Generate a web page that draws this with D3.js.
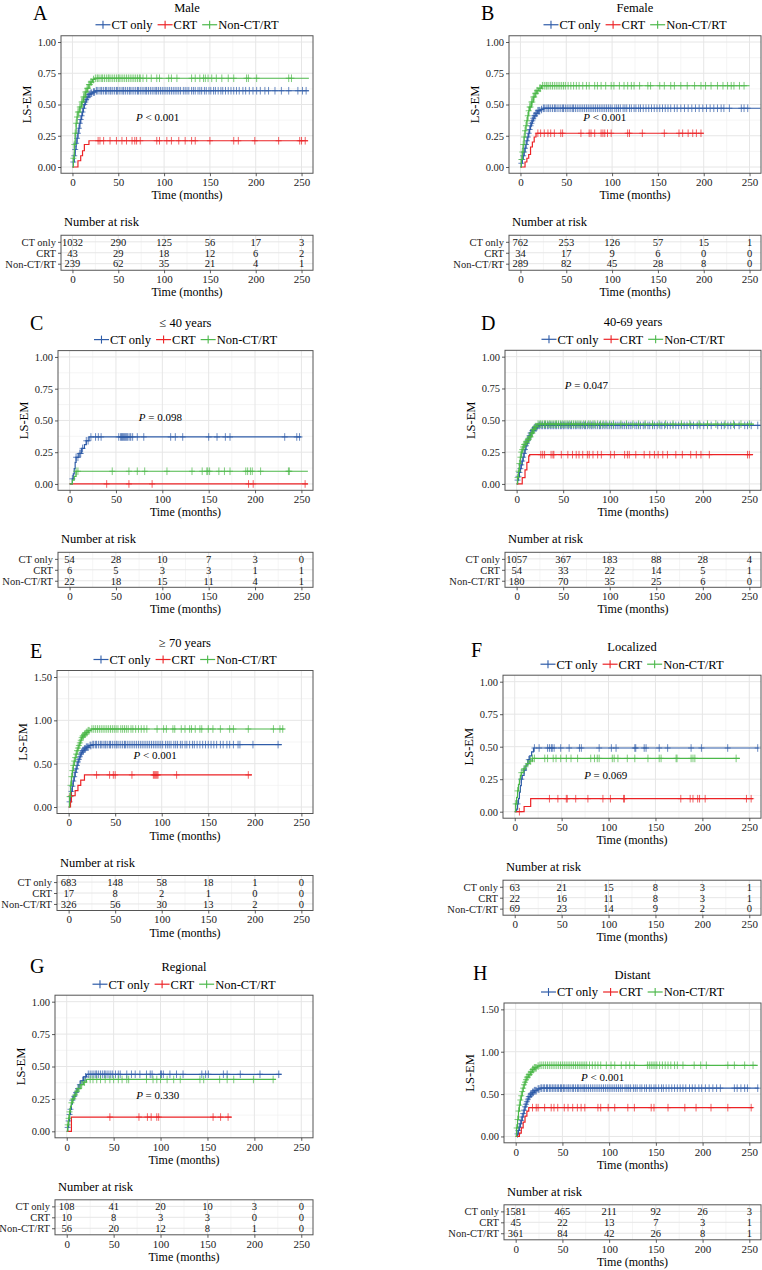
<!DOCTYPE html>
<html>
<head>
<meta charset="utf-8">
<script src="https://cdn.jsdelivr.net/npm/d3@7"></script>
<style>
  body { margin: 0; background: #fff; }
  svg { display: block; }
</style>
</head>
<body>
<script>
const groups = ["CT only", "CRT", "Non-CT/RT"];
const colors = ["#2f5ca8", "#ec2326", "#4cb84a"];
const riskTimes = [0, 50, 100, 150, 200, 250];
const xMajor = [0, 50, 100, 150, 200, 250];
const xMinor = [25, 75, 125, 175, 225];

const letters = ["A", "B", "C", "D", "E", "F", "G", "H"];
const titles = ["Male", "Female", "\u2264 40 years", "40-69 years", "\u2265 70 years", "Localized", "Regional", "Distant"];
const yMaxes = [1, 1, 1, 1, 1.5, 1, 1, 1.5];
const pTexts = ["< 0.001", "< 0.001", "= 0.098", "= 0.047", "< 0.001", "= 0.069", "= 0.330", "< 0.001"];

// number at risk: rows = CT only, CRT, Non-CT/RT
const riskA = [[1032, 290, 125, 56, 17, 3], [43, 29, 18, 12, 6, 2], [239, 62, 35, 21, 4, 1]];
const riskB = [[762, 253, 126, 57, 15, 1], [34, 17, 9, 6, 0, 0], [289, 82, 45, 28, 8, 0]];
const riskC = [[54, 28, 10, 7, 3, 0], [6, 5, 3, 3, 1, 1], [22, 18, 15, 11, 4, 1]];
const riskD = [[1057, 367, 183, 88, 28, 4], [54, 33, 22, 14, 5, 1], [180, 70, 35, 25, 6, 0]];
const riskE = [[683, 148, 58, 18, 1, 0], [17, 8, 2, 1, 0, 0], [326, 56, 30, 13, 2, 0]];
const riskF = [[63, 21, 15, 8, 3, 1], [22, 16, 11, 8, 3, 1], [69, 23, 14, 9, 2, 0]];
const riskG = [[108, 41, 20, 10, 3, 0], [10, 8, 3, 3, 0, 0], [56, 20, 12, 8, 1, 0]];
const riskH = [[1581, 465, 211, 92, 26, 3], [45, 22, 13, 7, 3, 1], [361, 84, 42, 26, 8, 1]];

// curves: [time, cumulative incidence] steps, censor times
const aCtSteps = [[0,0],[1,0.04],[2,0.09],[3,0.14],[4,0.19],[5,0.23],[6,0.27],[7,0.31],[8,0.35],[9,0.38],[10,0.41],[11,0.44],[12,0.47],[13,0.5],[14,0.52],[15,0.54],[16,0.56],[18,0.58],[20,0.59],[22,0.6],[25,0.61],[258,0.61]];
const aCtCens = [1,2,3,4,5,6,7,8,9,10,11,12,13,14,15,16,17,18,19,20,21,23,24,26,27,29,31,32,34,36,37,39,41,42,44,46,48,49,51,53,55,56,58,60,62,63,65,67,69,71,72,74,76,78,80,81,83,85,87,89,91,92,94,96,98,100,102,104,106,108,110,112,114,116,118,121,123,125,127,130,132,134,137,139,141,144,146,149,151,154,156,159,162,164,167,170,173,176,179,182,186,189,193,197,201,205,210,214,221,228,236,246,251,255];
const aCrtSteps = [[0,0],[6,0.05],[9,0.09],[11,0.13],[13,0.18],[18,0.21],[257,0.21]];
const aCrtCens = [28,30,34,41,48,54,59,65,68,70,74,92,95,103,108,116,123,130,134,150,176,181,199,225,248,250,254];
const aNonSteps = [[0,0],[1,0.07],[2,0.18],[3,0.27],[4,0.35],[5,0.4],[6,0.44],[8,0.48],[10,0.52],[12,0.56],[14,0.6],[16,0.63],[18,0.66],[20,0.68],[22,0.7],[24,0.71],[258,0.71]];
const aNonCens = [1,2,3,4,5,6,7,8,9,10,11,12,13,14,15,16,17,18,19,20,21,23,25,27,28,30,32,33,35,37,39,40,42,44,46,48,50,51,53,55,57,59,61,63,65,67,69,71,73,74,77,81,86,92,95,105,108,114,130,134,139,143,145,148,152,157,163,170,176,190,192,201,236,239];

const bCtSteps = [[0,0],[1,0.03],[2,0.06],[3,0.09],[4,0.12],[5,0.15],[6,0.18],[7,0.21],[8,0.24],[9,0.27],[10,0.3],[11,0.33],[12,0.35],[13,0.37],[14,0.39],[15,0.41],[17,0.43],[19,0.45],[22,0.46],[25,0.47],[262,0.47]];
const bCtCens = [1,2,3,4,5,6,7,8,9,10,11,12,13,14,15,16,17,18,19,20,21,23,25,26,28,30,31,33,35,37,38,40,42,44,46,47,49,51,53,55,57,58,60,62,64,66,68,70,72,74,76,78,80,82,84,86,88,90,92,94,96,98,100,103,105,107,109,112,114,116,119,121,124,126,129,131,134,137,140,143,146,149,152,155,158,161,164,168,171,175,179,183,187,191,195,199,203,207,211,215,219,222,228,241,244,248];
const bCrtSteps = [[0,0],[5,0.04],[7,0.07],[9,0.1],[11,0.16],[13,0.2],[15,0.24],[17,0.27],[200,0.27]];
const bCrtCens = [19,22,26,30,33,37,44,46,66,75,77,81,88,90,92,95,99,117,119,133,157,173,177,183,188,192,197];
const bNonSteps = [[0,0],[1,0.06],[2,0.12],[3,0.18],[4,0.24],[5,0.29],[6,0.33],[7,0.37],[8,0.41],[9,0.45],[10,0.48],[12,0.52],[14,0.56],[16,0.59],[18,0.61],[20,0.63],[23,0.65],[250,0.65]];
const bNonCens = [1,2,3,4,5,6,7,8,9,10,11,12,13,14,15,16,17,18,19,21,22,24,26,28,29,31,33,35,37,39,41,43,45,47,49,52,55,58,61,64,68,72,75,81,84,88,93,99,102,108,113,117,121,124,130,139,142,152,157,164,168,175,182,190,197,202,208,215,221,226,230,233,239,244];

const cCtSteps = [[0,0],[3,0.04],[4,0.08],[5,0.12],[6,0.17],[7,0.21],[10,0.24],[13,0.28],[16,0.31],[18,0.34],[21,0.37],[250,0.37]];
const cCtCens = [3,7,9,11,12,14,18,20,23,28,31,34,53,55,56,57,58,59,60,61,62,63,65,66,68,73,80,109,114,122,150,159,168,173,232,245,248];
const cCrtSteps = [[0,0],[257,0]];
const cCrtCens = [40,64,89,193,198,254];
const cNonSteps = [[0,0],[3,0.03],[5,0.06],[7,0.1],[257,0.1]];
const cNonCens = [7,9,46,64,73,81,105,132,143,148,149,151,161,167,173,190,192,195,197,206,236,237];

const dCtSteps = [[0,0],[1,0.03],[2,0.06],[3,0.09],[4,0.12],[5,0.15],[6,0.18],[7,0.21],[8,0.24],[9,0.27],[10,0.3],[11,0.32],[12,0.34],[13,0.36],[14,0.38],[15,0.4],[17,0.42],[19,0.44],[22,0.45],[24,0.46],[262,0.46]];
const dCtCens = [1,2,3,4,5,6,7,8,9,10,11,12,13,14,15,16,17,18,19,20,21,22,24,25,27,28,30,31,33,34,36,37,39,40,42,43,45,47,48,50,51,53,55,56,58,59,61,63,64,66,68,69,71,73,74,76,78,80,81,83,85,87,89,90,92,94,96,98,100,102,104,106,108,110,112,114,116,118,120,122,124,127,129,131,133,136,138,141,143,146,148,151,154,156,159,162,165,168,171,174,177,180,183,187,190,194,197,201,205,209,216,220,223,227,230,234,239,245,248,252,259];
const dCrtSteps = [[0,0],[6,0.05],[9,0.11],[11,0.17],[13,0.22],[14,0.23],[254,0.23]];
const dCrtCens = [26,28,30,37,39,40,48,55,60,64,67,71,76,78,82,87,91,101,105,116,119,121,128,137,143,148,152,157,162,171,178,187,193,198,207,248,250];
const dNonSteps = [[0,0],[1,0.05],[2,0.1],[3,0.16],[4,0.21],[5,0.25],[6,0.27],[7,0.29],[8,0.31],[10,0.33],[12,0.35],[14,0.37],[16,0.4],[18,0.43],[20,0.45],[22,0.47],[255,0.47]];
const dNonCens = [1,2,3,4,5,6,7,8,9,10,11,12,13,14,15,16,17,18,19,20,21,23,25,26,28,30,31,33,35,36,38,40,42,43,45,47,49,51,53,55,57,59,61,63,65,67,69,72,74,77,79,82,84,87,90,93,96,100,104,112,118,125,131,138,146,153,160,168,177,186,196,205,214,224,233,241,250];

const eCtSteps = [[0,0],[1,0.06],[2,0.12],[3,0.18],[4,0.24],[5,0.3],[6,0.35],[7,0.4],[8,0.44],[9,0.48],[10,0.52],[11,0.55],[12,0.58],[13,0.61],[14,0.63],[15,0.65],[17,0.67],[19,0.69],[22,0.71],[25,0.72],[229,0.72]];
const eCtCens = [1,2,3,4,5,6,7,8,9,10,11,12,13,14,15,16,17,18,19,20,21,23,24,26,27,29,30,32,34,35,37,39,40,42,44,45,47,49,51,52,54,56,58,60,61,63,65,67,69,71,73,75,77,79,81,83,85,87,89,91,93,95,97,99,101,104,106,108,110,113,115,117,120,122,125,127,130,133,135,138,141,144,147,150,153,156,159,163,166,170,173,177,182,184,198,225];
const eCrtSteps = [[0,0],[2,0.06],[3,0.13],[7,0.19],[10,0.25],[13,0.31],[17,0.37],[197,0.37]];
const eCrtCens = [3,30,44,48,50,68,91,92,93,94,95,96,116,193];
const eNonSteps = [[0,0],[1,0.12],[2,0.25],[3,0.35],[4,0.42],[5,0.48],[6,0.53],[7,0.57],[8,0.61],[9,0.65],[10,0.68],[11,0.71],[12,0.74],[13,0.77],[14,0.8],[15,0.82],[17,0.84],[19,0.86],[21,0.88],[24,0.9],[232,0.9]];
const eNonCens = [1,2,3,4,5,6,7,8,9,10,11,12,13,14,15,16,17,18,19,20,21,22,25,27,29,31,33,35,37,39,41,43,45,47,49,51,53,56,58,60,62,64,67,69,72,75,78,81,84,95,102,105,112,114,121,125,130,132,136,141,143,150,155,163,173,177,193,220,227,230];

const fCtSteps = [[0,0],[2,0.02],[3,0.06],[4,0.1],[5,0.15],[6,0.2],[7,0.25],[8,0.28],[10,0.32],[12,0.36],[14,0.4],[16,0.43],[18,0.46],[20,0.49],[260,0.49]];
const fCtCens = [3,7,10,15,21,26,35,37,39,40,42,49,58,69,71,90,103,108,128,129,138,140,154,163,188,199,227,259];
const fCrtSteps = [[0,0],[10,0.04],[17,0.1],[254,0.1]];
const fCrtCens = [5,37,46,55,56,65,78,94,102,116,117,177,187,190,195,197,203,247,252];
const fNonSteps = [[0,0],[1,0.06],[2,0.11],[3,0.16],[4,0.21],[5,0.25],[6,0.28],[7,0.3],[9,0.33],[11,0.35],[13,0.37],[16,0.39],[19,0.41],[240,0.41]];
const fNonCens = [1,3,7,10,14,17,19,21,32,35,41,44,49,55,60,67,81,85,88,90,104,106,110,120,128,142,154,156,172,173,188,190,192,236];

const gCtSteps = [[0,0],[1,0.03],[2,0.08],[3,0.13],[4,0.17],[5,0.21],[6,0.24],[7,0.27],[9,0.3],[11,0.33],[13,0.36],[15,0.39],[18,0.42],[21,0.44],[229,0.44]];
const gCtCens = [1,2,3,4,6,8,10,12,14,17,20,23,25,27,29,31,32,34,36,38,40,41,43,45,47,49,52,55,57,64,69,73,78,85,89,91,100,101,103,110,117,124,144,148,151,167,171,185,206,226];
const gCrtSteps = [[0,0],[5,0.11],[176,0.11]];
const gCrtCens = [46,77,86,90,96,98,156,164,172];
const gNonSteps = [[0,0],[1,0.05],[2,0.1],[3,0.15],[4,0.19],[5,0.22],[6,0.25],[8,0.28],[10,0.31],[12,0.33],[15,0.36],[18,0.38],[21,0.4],[223,0.4]];
const gNonCens = [1,2,3,5,7,9,11,13,16,19,25,28,32,36,41,46,50,55,59,64,66,85,92,96,100,107,114,121,142,146,163,171,178,199,220];

const hCtSteps = [[0,0],[2,0.03],[3,0.07],[4,0.11],[5,0.15],[6,0.19],[7,0.23],[8,0.27],[9,0.31],[10,0.35],[11,0.38],[12,0.41],[13,0.44],[14,0.47],[16,0.5],[18,0.52],[20,0.54],[23,0.56],[26,0.57],[260,0.57]];
const hCtCens = [2,3,4,5,6,7,8,9,10,11,12,13,14,15,16,17,18,19,20,21,22,24,25,27,28,30,31,33,34,36,37,39,40,42,43,45,46,48,49,51,52,54,56,57,59,61,62,64,66,67,69,71,73,74,76,78,80,82,84,86,88,90,92,94,96,98,100,102,104,106,108,110,112,114,117,119,121,123,126,128,130,133,135,138,140,143,145,148,150,153,156,158,161,164,167,170,173,176,179,182,186,189,192,196,199,203,207,211,215,219,234,237,241,245,248,259];
const hCrtSteps = [[0,0],[4,0.04],[6,0.1],[8,0.17],[10,0.24],[12,0.3],[14,0.34],[254,0.34]];
const hCrtCens = [18,22,24,31,38,41,45,52,56,61,66,70,74,88,91,99,106,120,127,145,148,163,181,193,209,227,252];
const hNonSteps = [[0,0],[1,0.1],[2,0.2],[3,0.3],[4,0.37],[5,0.43],[6,0.48],[7,0.53],[8,0.57],[9,0.61],[10,0.64],[11,0.67],[12,0.7],[14,0.73],[16,0.76],[18,0.79],[20,0.81],[23,0.83],[26,0.84],[259,0.84]];
const hNonCens = [1,2,3,4,5,6,7,8,9,10,11,12,13,14,15,16,17,18,19,20,21,22,24,26,28,30,32,34,36,38,40,42,44,46,48,50,52,54,56,58,60,62,64,66,68,70,72,74,76,79,82,85,88,91,97,102,106,113,118,122,127,141,143,145,147,149,151,154,157,160,163,166,170,173,179,191,198,204,227,234,245,254];

const risks = [riskA, riskB, riskC, riskD, riskE, riskF, riskG, riskH];
const curves = [
  [[aCtSteps, aCtCens], [aCrtSteps, aCrtCens], [aNonSteps, aNonCens]],
  [[bCtSteps, bCtCens], [bCrtSteps, bCrtCens], [bNonSteps, bNonCens]],
  [[cCtSteps, cCtCens], [cCrtSteps, cCrtCens], [cNonSteps, cNonCens]],
  [[dCtSteps, dCtCens], [dCrtSteps, dCrtCens], [dNonSteps, dNonCens]],
  [[eCtSteps, eCtCens], [eCrtSteps, eCrtCens], [eNonSteps, eNonCens]],
  [[fCtSteps, fCtCens], [fCrtSteps, fCrtCens], [fNonSteps, fNonCens]],
  [[gCtSteps, gCtCens], [gCrtSteps, gCrtCens], [gNonSteps, gNonCens]],
  [[hCtSteps, hCtCens], [hCrtSteps, hCrtCens], [hNonSteps, hNonCens]]
];

// plot boxes (pixels), letter position, p-value label spot (data units)
const boxes = [
  { x: 61, y: 35.75, w: 252, h: 137.5, lx: 33, ly: 20, pt: 93, pv: 0.40 },
  { x: 509, y: 35.75, w: 252, h: 137.5, lx: 481, ly: 20, pt: 92, pv: 0.40 },
  { x: 58, y: 350.6, w: 255, h: 139.7, lx: 30, ly: 330, pt: 98, pv: 0.53 },
  { x: 505, y: 350.3, w: 256, h: 140, lx: 481, ly: 330, pt: 75, pv: 0.78 },
  { x: 57, y: 670.5, w: 256, h: 143, lx: 30, ly: 658, pt: 93, pv: 0.595 },
  { x: 503, y: 675.2, w: 258, h: 143, lx: 471, ly: 657, pt: 97, pv: 0.28 },
  { x: 55, y: 995.2, w: 258, h: 142.6, lx: 30, ly: 973, pt: 97, pv: 0.28 },
  { x: 504, y: 1003, w: 257, h: 139.8, lx: 473, ly: 980, pt: 93, pv: 0.70 }
];

const FONT = "'Liberation Serif', 'Times New Roman', serif";
const svg = d3.select("body").append("svg")
  .attr("width", 762)
  .attr("height", 1270)
  .style("font-family", FONT);
svg.append("rect").attr("width", 762).attr("height", 1270).attr("fill", "#fff");

letters.forEach((l, i) => drawPanel(i));

function valueAt(steps, t) {
  let v = 0;
  steps.forEach(s => { if (s[0] <= t) v = s[1]; });
  return v;
}

function styleAxis(g, size) {
  g.select(".domain").remove();
  g.selectAll(".tick line").attr("stroke", "#333").attr("stroke-width", 0.8);
  g.selectAll(".tick text").attr("fill", "#222").style("font-size", size + "px").style("font-family", FONT);
}

function drawPanel(i) {
  const b = boxes[i];
  const yMax = yMaxes[i];
  const g = svg.append("g");
  const x = d3.scaleLinear().domain([-12.5, 262.5]).range([b.x, b.x + b.w]);
  const y = d3.scaleLinear().domain([-0.05 * yMax, 1.05 * yMax]).range([b.y + b.h, b.y]);
  const stepY = yMax > 1 ? 0.5 : 0.25;
  const yTicks = d3.range(0, yMax + 1e-6, stepY);
  const yMinor = yTicks.slice(1).map(v => v - stepY / 2);
  const bottom = b.y + b.h;

  // letter + title
  g.append("text").attr("x", b.lx).attr("y", b.ly)
    .style("font-size", "20px").text(letters[i]);
  g.append("text").attr("x", b.x + b.w / 2).attr("y", b.y - 24)
    .attr("text-anchor", "middle").style("font-size", "12.5px").text(titles[i]);

  // legend
  const leg = g.append("g");
  let lx = 0;
  groups.forEach((name, k) => {
    const it = leg.append("g").attr("transform", `translate(${lx},0)`);
    it.append("line").attr("x1", 0).attr("x2", 15).attr("y1", 0).attr("y2", 0)
      .attr("stroke", colors[k]).attr("stroke-width", 1.2);
    it.append("line").attr("x1", 7.5).attr("x2", 7.5).attr("y1", -4).attr("y2", 4)
      .attr("stroke", colors[k]).attr("stroke-width", 1.1);
    const t = it.append("text").attr("x", 16).attr("y", 4.3)
      .style("font-size", "12.5px").text(name);
    lx += 16 + t.node().getComputedTextLength() + 5;
  });
  leg.attr("transform", `translate(${b.x + b.w / 2 - (lx - 5) / 2},${b.y - 11})`);

  // grid
  const grid = g.append("g");
  yMinor.forEach(v => grid.append("line").attr("x1", b.x).attr("x2", b.x + b.w)
    .attr("y1", y(v)).attr("y2", y(v)).attr("stroke", "#f3f3f3").attr("stroke-width", 0.8));
  xMinor.forEach(v => grid.append("line").attr("x1", x(v)).attr("x2", x(v))
    .attr("y1", b.y).attr("y2", bottom).attr("stroke", "#f3f3f3").attr("stroke-width", 0.8));
  yTicks.forEach(v => grid.append("line").attr("x1", b.x).attr("x2", b.x + b.w)
    .attr("y1", y(v)).attr("y2", y(v)).attr("stroke", "#e6e6e6").attr("stroke-width", 1));
  xMajor.forEach(v => grid.append("line").attr("x1", x(v)).attr("x2", x(v))
    .attr("y1", b.y).attr("y2", bottom).attr("stroke", "#e6e6e6").attr("stroke-width", 1));

  // curves
  const line = d3.line().x(d => x(d[0])).y(d => y(d[1])).curve(d3.curveStepAfter);
  curves[i].forEach((c, k) => {
    const [steps, cens] = c;
    g.append("path").attr("d", line(steps)).attr("fill", "none")
      .attr("stroke", colors[k]).attr("stroke-width", 1.2);
    g.append("g").selectAll("path").data(cens).join("path")
      .attr("d", t => {
        const px = x(t), py = y(valueAt(steps, t));
        return `M${px - 3},${py}H${px + 3}M${px},${py - 3.8}V${py + 3.8}`;
      })
      .attr("stroke", colors[k]).attr("stroke-width", 0.9).attr("stroke-opacity", 0.8);
  });

  // border
  g.append("rect").attr("x", b.x).attr("y", b.y).attr("width", b.w).attr("height", b.h)
    .attr("fill", "none").attr("stroke", "#555").attr("stroke-width", 1);

  // p value
  const pt = g.append("text").attr("x", x(b.pt)).attr("y", y(b.pv) + 4)
    .attr("text-anchor", "middle").style("font-size", "11px");
  pt.append("tspan").style("font-style", "italic").text("P");
  pt.append("tspan").text(" " + pTexts[i]);

  // axes
  const xa = g.append("g").attr("transform", `translate(0,${bottom})`)
    .call(d3.axisBottom(x).tickValues(xMajor).tickSize(3).tickPadding(2));
  styleAxis(xa, 11);
  const ya = g.append("g").attr("transform", `translate(${b.x},0)`)
    .call(d3.axisLeft(y).tickValues(yTicks).tickFormat(d3.format(".2f")).tickSize(3).tickPadding(2));
  styleAxis(ya, 10.5);

  g.append("text").attr("x", b.x + b.w / 2).attr("y", bottom + 26)
    .attr("text-anchor", "middle").style("font-size", "12px").text("Time (months)");
  g.append("text").attr("transform", `translate(${b.x - 30},${b.y + b.h / 2}) rotate(-90)`)
    .attr("text-anchor", "middle").style("font-size", "12.5px").text("LS-EM");

  // number at risk table
  const rt = bottom + 62, rh = 35;
  g.append("text").attr("x", b.x + 3).attr("y", bottom + 53)
    .style("font-size", "12.5px").text("Number at risk");
  const ry = d3.scaleLinear().domain([0.4, 3.6]).range([rt, rt + rh]);
  const rg = g.append("g");
  xMinor.forEach(v => rg.append("line").attr("x1", x(v)).attr("x2", x(v))
    .attr("y1", rt).attr("y2", rt + rh).attr("stroke", "#f3f3f3").attr("stroke-width", 0.8));
  xMajor.forEach(v => rg.append("line").attr("x1", x(v)).attr("x2", x(v))
    .attr("y1", rt).attr("y2", rt + rh).attr("stroke", "#e6e6e6").attr("stroke-width", 1));
  [1, 2, 3].forEach(r => rg.append("line").attr("x1", b.x).attr("x2", b.x + b.w)
    .attr("y1", ry(r)).attr("y2", ry(r)).attr("stroke", "#e6e6e6").attr("stroke-width", 1));
  risks[i].forEach((row, r) => {
    rg.selectAll(null).data(row).join("text")
      .attr("x", (d, j) => x(riskTimes[j])).attr("y", ry(r + 1) + 3.8)
      .attr("text-anchor", "middle").style("font-size", "10.5px").attr("fill", "#111")
      .text(d => d);
  });
  rg.append("rect").attr("x", b.x).attr("y", rt).attr("width", b.w).attr("height", rh)
    .attr("fill", "none").attr("stroke", "#555").attr("stroke-width", 1);
  const rya = g.append("g").attr("transform", `translate(${b.x},0)`)
    .call(d3.axisLeft(ry).tickValues([1, 2, 3]).tickFormat(d => groups[d - 1]).tickSize(3).tickPadding(2));
  styleAxis(rya, 10.5);
  const rxa = g.append("g").attr("transform", `translate(0,${rt + rh})`)
    .call(d3.axisBottom(x).tickValues(xMajor).tickSize(3).tickPadding(2));
  styleAxis(rxa, 11);
  g.append("text").attr("x", b.x + b.w / 2).attr("y", rt + rh + 26)
    .attr("text-anchor", "middle").style("font-size", "12px").text("Time (months)");
}
</script>
</body>
</html>
